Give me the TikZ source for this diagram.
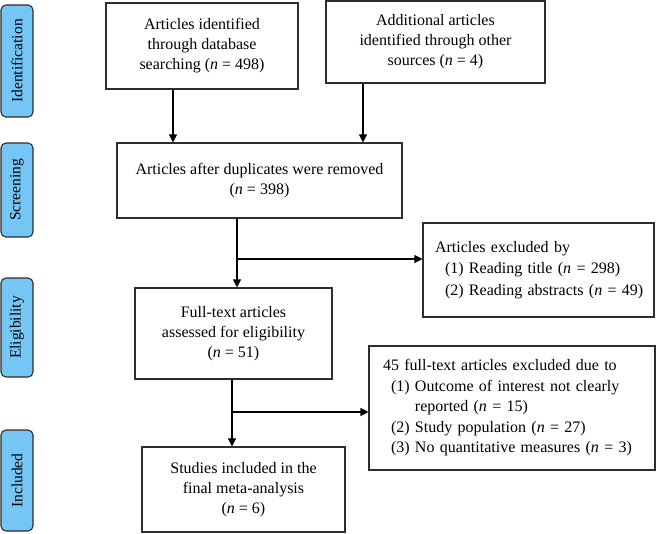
\documentclass[tikz,border=0pt]{standalone}
\usepackage{fontspec}
\setmainfont{Liberation Serif}
\usetikzlibrary{arrows.meta}
\definecolor{sideblue}{RGB}{117,197,245}
\definecolor{edge}{RGB}{45,45,45}
\newcommand{\nn}[1]{(\textit{n} = #1)}
\begin{document}
\begin{tikzpicture}[x=1pt,y=-1pt,
  box/.style={draw=edge,line width=1.1pt,fill=white,align=center,inner sep=0pt,
    font=\fontsize{16}{20}\selectfont},
  exbox/.style={draw=edge,line width=1.1pt,fill=white,align=left,inner sep=0pt},
  side/.style={draw=edge,line width=1.1pt,fill=sideblue,rounded corners=5pt,rotate=90,
    minimum height=32pt,inner sep=0pt,font=\fontsize{15.5}{17}\selectfont},
  arr/.style={draw=black,line width=1.1pt,-{Triangle[length=8pt,width=8pt]}},
  ln/.style={draw=black,line width=1.1pt}]
\useasboundingbox (0,0) rectangle (656,533);
% side labels
\node[side,minimum width=112pt] (sid) at (17,61) {Identification};
\node[side,minimum width=94pt] (sscr) at (17,190) {Screening};
\node[side,minimum width=99pt] (sel) at (17,327.5) {Eligibility};
\node[side,minimum width=101pt] (sinc) at (17,480.5) {Included};
% main boxes
\node[box,minimum width=192pt,minimum height=86pt] (b1) at (202,46)
  {Articles identified\\through database\\searching \nn{498}};
\node[box,minimum width=219pt,minimum height=82pt] (b2) at (435.5,42)
  {Additional articles\\identified through other\\sources \nn{4}};
\node[box,minimum width=285pt,minimum height=75pt] (b3) at (259.5,180.5)
  {Articles after duplicates were removed\\\nn{398}};
\node[box,minimum width=197pt,minimum height=91pt] (b4) at (233.5,333.5)
  {Full-text articles\\assessed for eligibility\\\nn{51}};
\node[box,minimum width=203pt,minimum height=85pt] (b5) at (243.5,489.5)
  {Studies included in the\\final meta-analysis\\\nn{6}};
% exclusion boxes
\node[exbox,minimum width=231pt,minimum height=94pt,text width=207pt,
  font=\fontsize{16}{21.5}\selectfont] (e1) at (538.5,270)
  {\mbox{Articles excluded by}\\
   \mbox{\hspace*{10pt}(1)\ Reading title \nn{298}}\\
   \mbox{\hspace*{10pt}(2)\ Reading abstracts \nn{49}}};
\node[exbox,minimum width=286pt,minimum height=124pt,text width=258pt,
  font=\fontsize{16}{20.5}\selectfont] (e2) at (512,408)
  {\mbox{45 full-text articles excluded due to}\\
   \mbox{\hspace*{8pt}(1)\ Outcome of interest not clearly}\\
   \mbox{\hspace*{8pt}\phantom{(1)\ }reported \nn{15}}\\
   \mbox{\hspace*{8pt}(2)\ Study population \nn{27}}\\
   \mbox{\hspace*{8pt}(3)\ No quantitative measures \nn{3}}};
% connectors
\draw[arr] (b1.south -| 173,0) -- (b3.north -| 173,0);
\draw[arr] (b2.south -| 363,0) -- (b3.north -| 363,0);
\coordinate (j1) at (237,259);
\coordinate (j2) at (232,412);
\draw[arr] (b3.south -| j1) -- (b4.north -| j1);
\draw[arr] (j1) -- (e1.west |- j1);
\draw[arr] (b4.south -| j2) -- (b5.north -| j2);
\draw[arr] (j2) -- (e2.west |- j2);
\end{tikzpicture}
\end{document}
